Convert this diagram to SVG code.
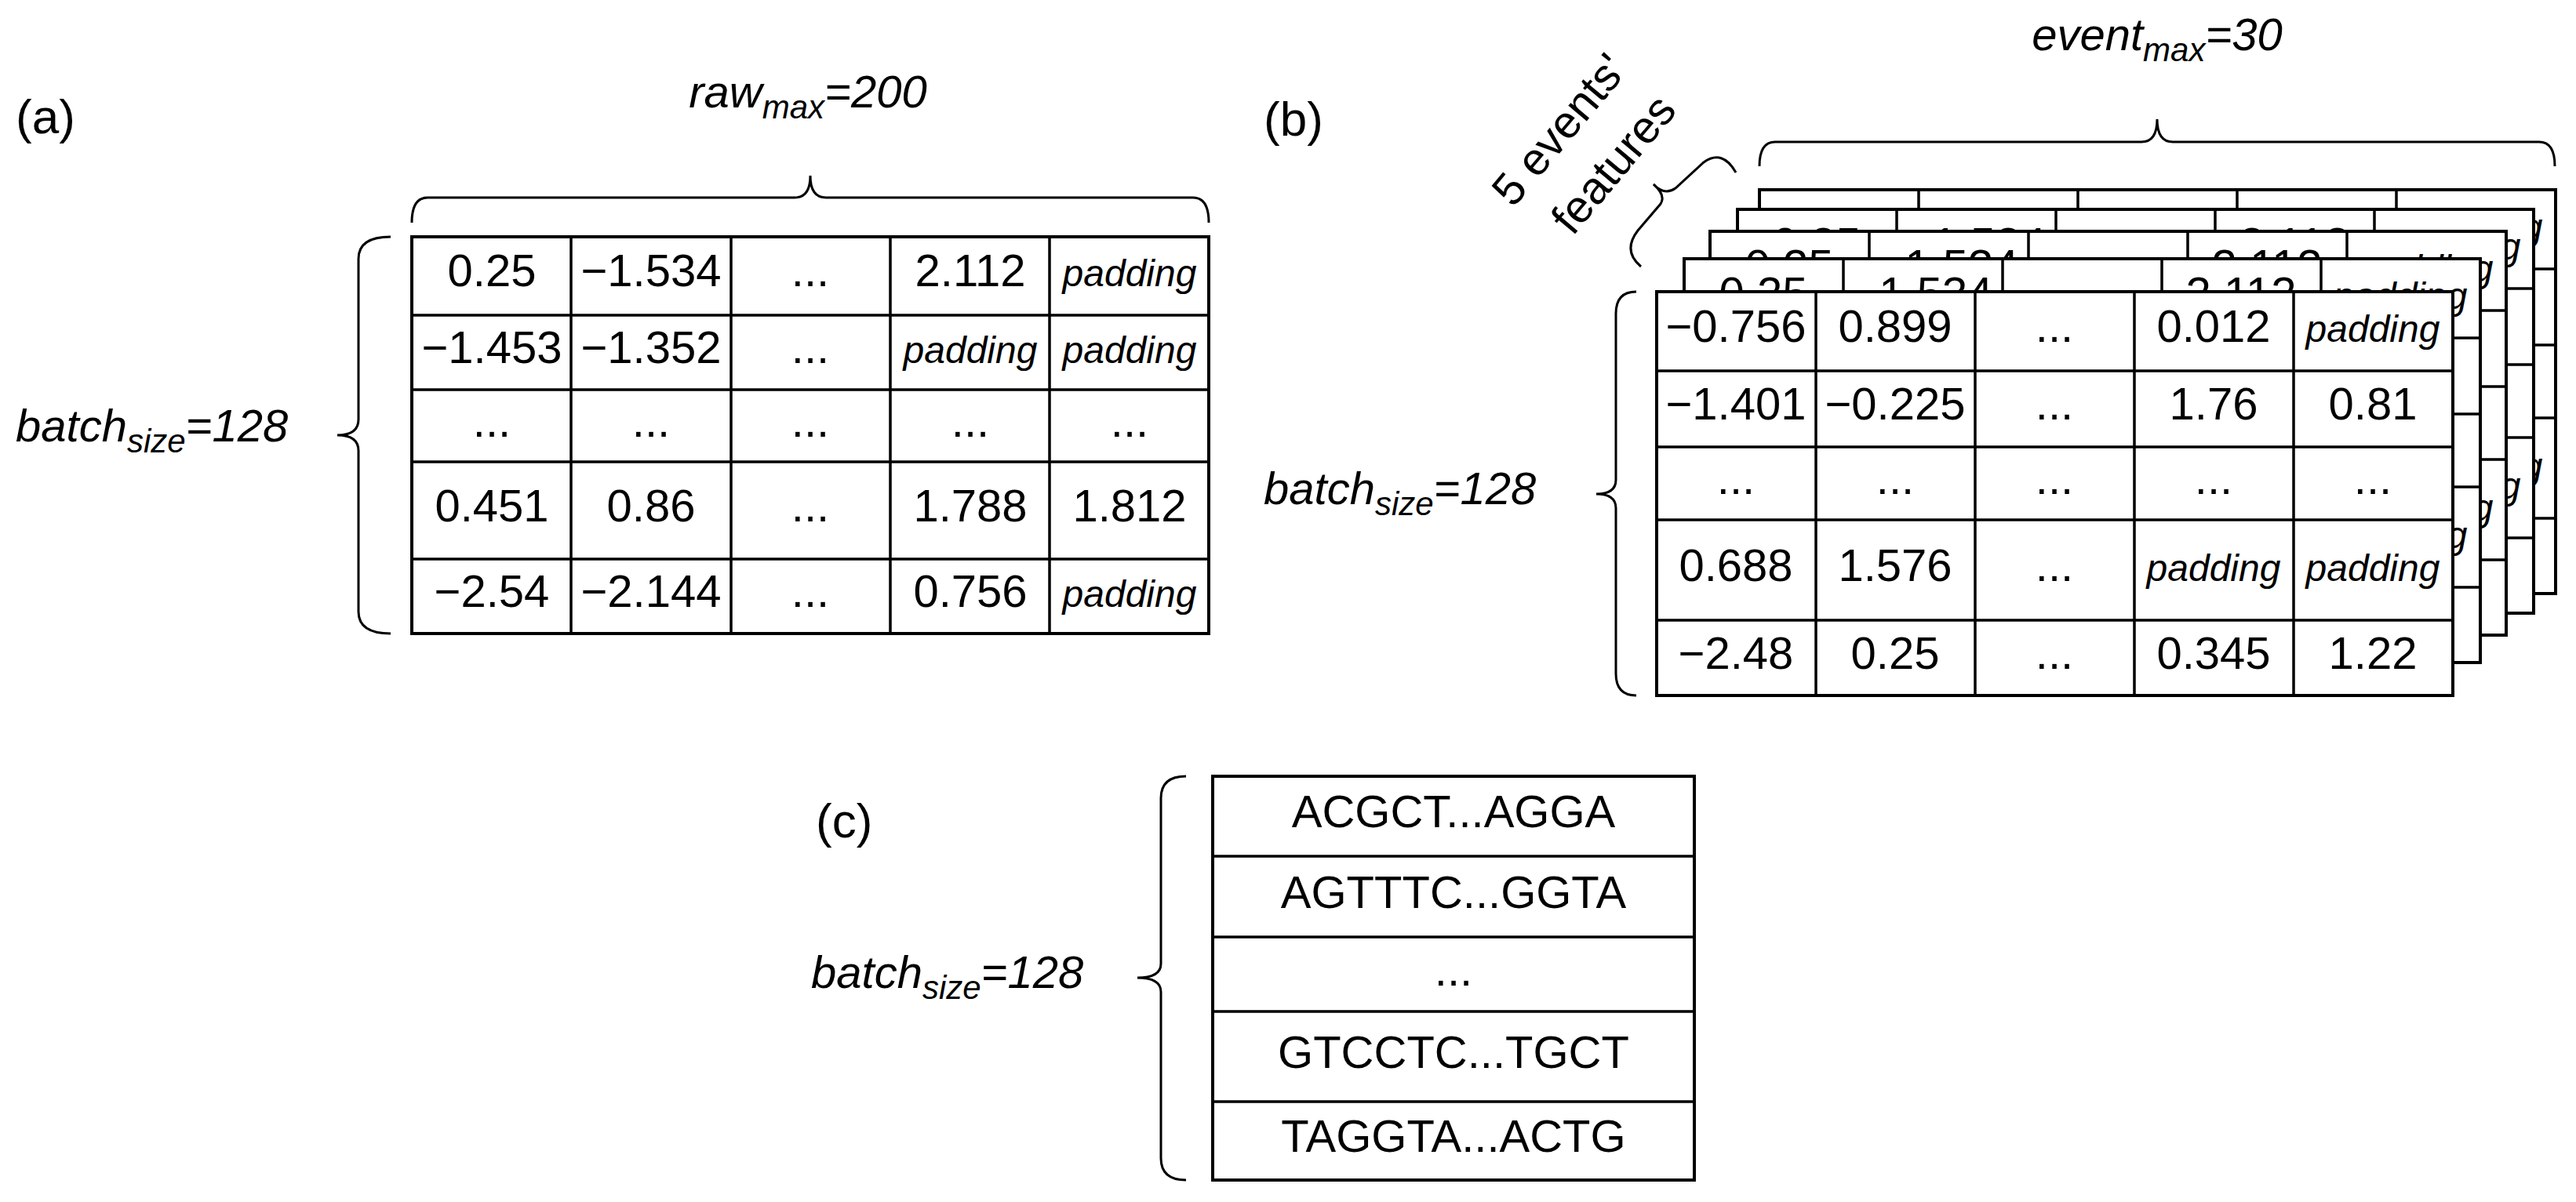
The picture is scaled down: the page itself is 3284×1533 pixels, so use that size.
<svg xmlns="http://www.w3.org/2000/svg" xmlns:xlink="http://www.w3.org/1999/xlink" width="3284" height="1533" viewBox="0 0 3284 1533">
<style>
.t{font-family:"Liberation Sans",Arial,sans-serif;font-size:58px;fill:#000;text-anchor:middle}
.p{font-family:"Liberation Sans",Arial,sans-serif;font-size:48px;font-style:italic;fill:#000;text-anchor:middle}
.lab{font-family:"Liberation Sans",Arial,sans-serif;font-size:62px;fill:#000}
.it{font-family:"Liberation Sans",Arial,sans-serif;font-size:58px;font-style:italic;fill:#000}
.sub{font-size:42px}
.g{fill:#fff;stroke:#000;stroke-width:4}
.ln{stroke:#000;stroke-width:3.5;fill:none}
.br{stroke:#000;stroke-width:3;fill:none}
</style>
<defs>
<g id="back">
<rect class="g" x="0" y="0" width="1015" height="515"/>
<path class="ln" d="M203,0V515M406,0V515M609,0V515M812,0V515M0,101H1015M0,198H1015M0,291H1015M0,419H1015"/>
<text class="t" x="101" y="64">0.25</text><text class="t" x="304" y="64">−1.534</text><text class="t" x="507" y="64">...</text><text class="t" x="710" y="64">2.112</text><text class="p" x="913" y="64">padding</text>
<text class="p" x="913" y="369">padding</text>
</g>
</defs>

<g id="panel-a">
<text class="lab" x="20" y="170">(a)</text>
<text class="it" x="1030" y="137" text-anchor="middle">raw<tspan class="sub" dy="14">max</tspan><tspan dy="-14">=200</tspan></text>
<path class="br" d="M525,284 Q525,252 545,252 L1013,252 Q1033,252 1033,224 Q1033,252 1053,252 L1521,252 Q1541,252 1541,284"/>
<text class="it" x="20" y="563">batch<tspan class="sub" dy="14">size</tspan><tspan dy="-14">=128</tspan></text>
<path class="br" d="M498,302 Q457,302 457,330 L457,535 Q457,555 430,555 Q457,555 457,575 L457,780 Q457,808 498,808"/>
<g id="table-a">
<rect class="g" x="525" y="302" width="1016" height="506"/>
<path class="ln" d="M728,302V808M932,302V808M1135,302V808M1338,302V808M525,402H1541M525,497H1541M525,589H1541M525,713H1541"/>
<text class="t" x="627" y="365">0.25</text><text class="t" x="830" y="365">−1.534</text><text class="t" x="1033" y="365">...</text><text class="t" x="1237" y="365">2.112</text><text class="p" x="1440" y="365">padding</text>
<text class="t" x="627" y="463">−1.453</text><text class="t" x="830" y="463">−1.352</text><text class="t" x="1033" y="463">...</text><text class="p" x="1237" y="463">padding</text><text class="p" x="1440" y="463">padding</text>
<text class="t" x="627" y="557">...</text><text class="t" x="830" y="557">...</text><text class="t" x="1033" y="557">...</text><text class="t" x="1237" y="557">...</text><text class="t" x="1440" y="557">...</text>
<text class="t" x="627" y="665">0.451</text><text class="t" x="830" y="665">0.86</text><text class="t" x="1033" y="665">...</text><text class="t" x="1237" y="665">1.788</text><text class="t" x="1440" y="665">1.812</text>
<text class="t" x="627" y="774">−2.54</text><text class="t" x="830" y="774">−2.144</text><text class="t" x="1033" y="774">...</text><text class="t" x="1237" y="774">0.756</text><text class="p" x="1440" y="774">padding</text>
</g>
</g>

<g id="panel-b">
<text class="lab" x="1611" y="173">(b)</text>
<text class="it" x="2750" y="64" text-anchor="middle">event<tspan class="sub" dy="14">max</tspan><tspan dy="-14">=30</tspan></text>
<path class="br" d="M2243,212 Q2243,181 2263,181 L2730,181 Q2750,181 2750,152 Q2750,181 2770,181 L3237,181 Q3257,181 3257,212"/>
<g transform="translate(2003,178) rotate(-50)"><text class="t">5 events'</text></g>
<g transform="translate(2072,222) rotate(-50)"><text class="t">features</text></g>
<path class="br" d="M2092,340 Q2068,320 2088,294 L2117,260 Q2124,249 2108,235 Q2122,250 2136,240 L2172,207 Q2196,190 2213,220"/>
<text class="it" x="1611" y="643">batch<tspan class="sub" dy="14">size</tspan><tspan dy="-14">=128</tspan></text>
<path class="br" d="M2086,372 Q2060,372 2060,400 L2060,612 Q2060,630 2035,630 Q2060,630 2060,648 L2060,859 Q2060,887 2086,887"/>
<use xlink:href="#back" transform="translate(2243,242)"/>
<use xlink:href="#back" transform="translate(2215,267)"/>
<use xlink:href="#back" transform="translate(2180,295)"/>
<use xlink:href="#back" transform="translate(2147,330)"/>
<g id="table-b">
<rect class="g" x="2112" y="372" width="1015" height="515"/>
<path class="ln" d="M2315,372V887M2518,372V887M2721,372V887M2924,372V887M2112,473H3127M2112,570H3127M2112,663H3127M2112,791H3127"/>
<text class="t" x="2213" y="436">−0.756</text><text class="t" x="2416" y="436">0.899</text><text class="t" x="2619" y="436">...</text><text class="t" x="2822" y="436">0.012</text><text class="p" x="3025" y="436">padding</text>
<text class="t" x="2213" y="535">−1.401</text><text class="t" x="2416" y="535">−0.225</text><text class="t" x="2619" y="535">...</text><text class="t" x="2822" y="535">1.76</text><text class="t" x="3025" y="535">0.81</text>
<text class="t" x="2213" y="630">...</text><text class="t" x="2416" y="630">...</text><text class="t" x="2619" y="630">...</text><text class="t" x="2822" y="630">...</text><text class="t" x="3025" y="630">...</text>
<text class="t" x="2213" y="741">0.688</text><text class="t" x="2416" y="741">1.576</text><text class="t" x="2619" y="741">...</text><text class="p" x="2822" y="741">padding</text><text class="p" x="3025" y="741">padding</text>
<text class="t" x="2213" y="853">−2.48</text><text class="t" x="2416" y="853">0.25</text><text class="t" x="2619" y="853">...</text><text class="t" x="2822" y="853">0.345</text><text class="t" x="3025" y="853">1.22</text>
</g>
</g>

<g id="panel-c">
<text class="lab" x="1040" y="1068">(c)</text>
<text class="it" x="1034" y="1260">batch<tspan class="sub" dy="14">size</tspan><tspan dy="-14">=128</tspan></text>
<path class="br" d="M1512,990 Q1480,990 1480,1018 L1480,1229 Q1480,1247 1450,1247 Q1480,1247 1480,1265 L1480,1477 Q1480,1505 1512,1505"/>
<g id="table-c">
<rect class="g" x="1546" y="990" width="614" height="515"/>
<path class="ln" d="M1546,1092H2160M1546,1195H2160M1546,1290H2160M1546,1405H2160"/>
<text class="t" x="1853" y="1055">ACGCT...AGGA</text>
<text class="t" x="1853" y="1158">AGTTTC...GGTA</text>
<text class="t" x="1853" y="1257">...</text>
<text class="t" x="1853" y="1362">GTCCTC...TGCT</text>
<text class="t" x="1853" y="1469">TAGGTA...ACTG</text>
</g>
</g>
</svg>
